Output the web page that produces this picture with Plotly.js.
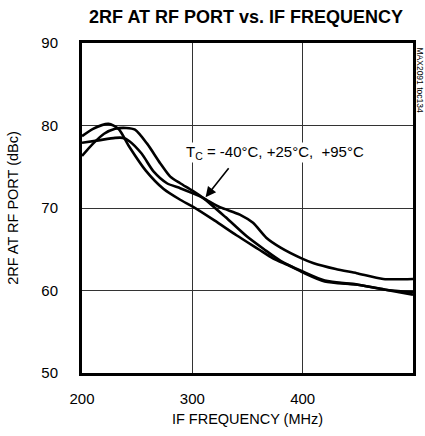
<!DOCTYPE html>
<html>
<head>
<meta charset="utf-8">
<script src="https://cdn.plot.ly/plotly-3.0.1.min.js"></script>
<style>html,body{margin:0;padding:0;background:#fff;}#chart{width:425px;height:436px;}</style>
</head>
<body>
<div id="chart"></div>
<script>
// IF frequency (MHz) and 2RF at RF port (dBc) for three temperature curves
const freqA = [200, 210, 224, 233, 243, 258, 274, 289, 300, 320, 340, 360, 373, 388, 400, 420, 450, 475, 500];
const dbcA  = [78.7, 79.6, 80.2, 79.6, 77.4, 74.5, 72.3, 71.0, 70.2, 68.5, 66.7, 65.0, 63.9, 63.0, 62.2, 61.1, 60.7, 60.1, 59.5];

const freqB = [200, 210, 220, 230, 240, 248, 259, 271, 280, 289, 300, 310, 330, 349, 365, 380, 400, 420, 450, 475, 500];
const dbcB  = [76.3, 77.8, 79.0, 79.6, 79.7, 79.5, 77.8, 75.4, 73.8, 73.0, 72.1, 71.2, 68.9, 66.6, 65.0, 63.6, 62.3, 61.2, 60.7, 60.1, 59.8];

const freqC = [200, 215, 230, 237, 243, 254, 265, 277, 289, 300, 310, 325, 343, 355, 367, 380, 399, 410, 430, 449, 473, 500];
const dbcC  = [77.9, 78.2, 78.5, 78.5, 78.1, 76.6, 74.4, 73.0, 72.4, 71.8, 71.2, 70.1, 69.2, 68.2, 66.4, 65.2, 63.9, 63.3, 62.6, 62.1, 61.4, 61.4];

const xTicks = [200, 300, 400, 500];
const yTicks = [50, 60, 70, 80, 90];

const FAM = '"Liberation Sans", Arial, sans-serif';
function f(size, extra) {
  return Object.assign({family: FAM, size: size, color: '#000'}, extra || {});
}

function curve(x, y) {
  return {x: x, y: y, type: 'scatter', mode: 'lines',
    line: {color: '#000', width: 2.6, shape: 'spline', smoothing: 0.7},
    hoverinfo: 'skip', showlegend: false};
}

const data = [curve(freqA, dbcA), curve(freqB, dbcB), curve(freqC, dbcC)];

const layout = {
  width: 425, height: 436,
  margin: {l: 82, r: 12, t: 43, b: 63},
  paper_bgcolor: '#fff', plot_bgcolor: '#fff',
  font: f(15),
  showlegend: false,
  title: {text: '2RF AT RF PORT vs. IF FREQUENCY', font: f(18, {weight: 'bold'}),
          x: 0.579, xanchor: 'center', y: 0.962, yanchor: 'middle'},
  xaxis: {range: [200, 500], tickvals: xTicks, ticktext: xTicks.map(String), tickfont: f(15),
    showgrid: true, gridcolor: '#333', gridwidth: 1, zeroline: false,
    showline: true, linecolor: '#000', linewidth: 3, mirror: true,
    ticks: '', ticklabelstandoff: 10,
    title: {text: 'IF FREQUENCY (MHz)', font: f(14.5), standoff: 8}},
  yaxis: {range: [50, 90], tickvals: yTicks, ticktext: yTicks.map(String), tickfont: f(15),
    showgrid: true, gridcolor: '#333', gridwidth: 1, zeroline: false,
    showline: true, linecolor: '#000', linewidth: 3, mirror: true,
    ticks: '', ticklabelstandoff: 18,
    title: {text: '2RF AT RF PORT (dBc)', font: f(14.5), standoff: 20}},
  annotations: [
    {x: 374.5, y: 76.7, xref: 'x', yref: 'y', text: 'T<sub>C</sub> = -40°C, +25°C, \u00A0+95°C',
     showarrow: false, font: f(15), bgcolor: '#fff',
     xanchor: 'center', yanchor: 'middle', borderpad: 0},
    {x: 312, y: 71.3, xref: 'x', yref: 'y', ax: 334, ay: 75.0, axref: 'x', ayref: 'y',
     text: '', showarrow: true, arrowhead: 2, arrowsize: 1.3, arrowwidth: 1.6, arrowcolor: '#000'},
    {x: 1, y: 1, xref: 'paper', yref: 'paper', xshift: 7, yshift: -2, text: 'MAX2091 toc134',
     showarrow: false, textangle: 90, font: f(8.5),
     xanchor: 'center', yanchor: 'top'}
  ]
};

Plotly.newPlot('chart', data, layout, {displayModeBar: false, staticPlot: true});
</script>
</body>
</html>
